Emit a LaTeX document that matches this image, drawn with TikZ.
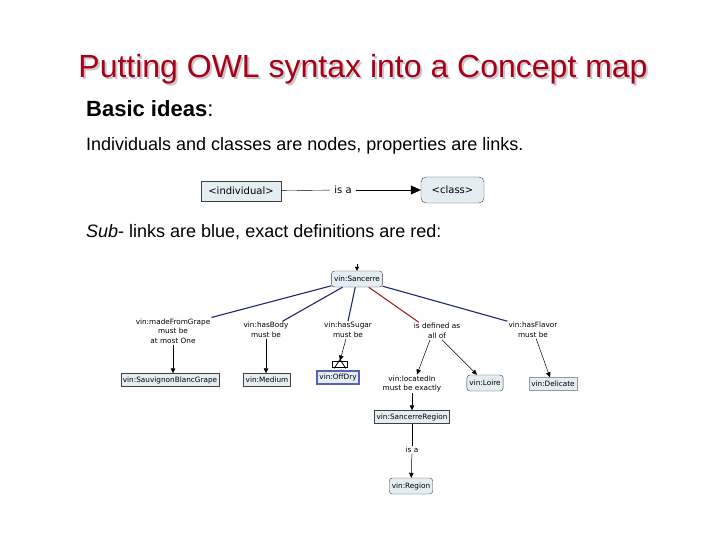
\documentclass[tikz,border=0pt]{standalone}
\usepackage{fontspec}
\setmainfont{Liberation Sans}
\newfontfamily\mapfont{DejaVu Sans}
\usetikzlibrary{positioning,arrows.meta}
\definecolor{titlered}{RGB}{168,0,24}
\definecolor{subblue}{RGB}{30,38,118}
\definecolor{defred}{RGB}{172,32,32}
\definecolor{boxfill}{RGB}{228,237,242}
\definecolor{selblue}{RGB}{88,100,178}
\begin{document}
\begin{tikzpicture}[x=1pt,y=-1pt,>={Triangle[length=5pt,width=4.5pt]},
concept/.style={draw=black!75,fill=boxfill,rounded corners=3pt,font=\mapfont\fontsize{7.3}{9}\selectfont,inner sep=2.5pt,minimum height=16pt},
instance/.style={draw=black!75,fill=boxfill,font=\mapfont\fontsize{7.3}{9}\selectfont,inner sep=2pt,minimum height=13pt},
link/.style={font=\mapfont\fontsize{7.3}{9.5}\selectfont,align=center,inner sep=1pt},
line/.style={font=\fontsize{18}{21}\selectfont,anchor=base west,inner sep=0pt},
sub/.style={draw=subblue,line width=1.1pt},
exact/.style={draw=defred,line width=1.1pt},
hop/.style={->,draw=black,line width=0.5pt}]
\useasboundingbox[fill=white] (0,0) rectangle (720,540);
\node[text=black!22,font=\fontsize{32}{36}\selectfont,anchor=base] (shadow) at (365,80) {Putting OWL syntax into a Concept map};
\node[text=titlered,font=\fontsize{32}{36}\selectfont,anchor=base] (title) at (363,78) {Putting OWL syntax into a Concept map};
\node[line,font=\fontsize{22}{26}\selectfont] (basic) at (86,116.5) {\textbf{Basic ideas}:};
\node[line] (ideas) at (86,150.5) {Individuals and classes are nodes, properties are links.};
\node[line] (colors) at (86,237) {\textit{Sub}- links are blue, exact definitions are red:};

\node[instance,font=\mapfont\fontsize{10}{12}\selectfont,minimum width=80pt,minimum height=20pt] (indiv) at (241,191) {<individual>};
\node[concept,font=\mapfont\fontsize{10}{12}\selectfont,rounded corners=5pt,minimum width=63pt,minimum height=26pt] (class) at (452.5,190) {<class>};
\node[link,font=\mapfont\fontsize{10}{12}\selectfont,fill=white,inner sep=4pt] (isa) at (343,190) {is a};
\draw (indiv) -- (isa); \draw[->,>={Triangle[length=10pt,width=9pt]}] (isa) -- (class);

\node[concept] (sancerre) at (357,279) {vin:Sancerre};
\coordinate[above=7pt of sancerre] (into);
\draw[->,>={Triangle[length=4pt,width=4pt]}] (into) -- (sancerre);
\node[link] (grape) at (173,331) {vin:madeFromGrape\\must be\\at most One};
\node[link] (body) at (266,330) {vin:hasBody\\must be};
\node[link] (sugar) at (348,330) {vin:hasSugar\\must be};
\node[link] (defined) at (437,331) {is defined as\\all of};
\node[link] (flavor) at (533,330) {vin:hasFlavor\\must be};
\node[instance] (blanc) at (170,380) {vin:SauvignonBlancGrape};
\node[instance] (medium) at (267,380) {vin:Medium};
\node[instance,draw=selblue,line width=2pt] (offdry) at (338,377) {vin:OffDry};
\node[draw=black,fill=white,line width=0.8pt,minimum width=15pt,minimum height=6pt,inner sep=0pt] (fold) at (340,364) {};
\draw[line width=0.8pt] ([xshift=2pt,yshift=-1pt]fold.south west) -- ([yshift=1pt]fold.north) -- ([xshift=-2pt,yshift=-1pt]fold.south east);
\node[link] (located) at (412,384) {vin:locatedIn\\must be exactly};
\node[concept] (loire) at (485,383) {vin:Loire};
\node[instance,draw=black!40] (delicate) at (553,384) {vin:Delicate};
\node[instance] (region1) at (412,417) {vin:SancerreRegion};
\node[link] (isa2) at (412,450) {is a};
\node[concept] (region) at (411,486) {vin:Region};

\draw[sub] (sancerre) -- (grape.north east);
\draw[sub] (sancerre) -- ([xshift=-7pt]body.north east);
\draw[sub] (sancerre) -- (sugar.north);
\draw[exact] (sancerre) -- ([xshift=6pt]defined.north west);
\draw[sub] (sancerre) -- (flavor.north west);
\draw[hop] (grape) -- (grape |- blanc.north);
\draw[hop] (body) -- (body |- medium.north);
\draw[hop] ([xshift=-2pt]sugar.south) -- (fold.north);
\draw[hop] ([xshift=-7pt]defined.south) -- ([xshift=5pt]located.north);
\draw[hop] ([xshift=5pt]defined.south) -- ([xshift=-8pt]loire.north);
\draw[hop] (flavor) -- ([xshift=-3pt]delicate.north);
\draw[hop] (located) -- (region1);
\draw (region1) -- (isa2); \draw[hop] (isa2) -- (region);
\end{tikzpicture}
\end{document}
